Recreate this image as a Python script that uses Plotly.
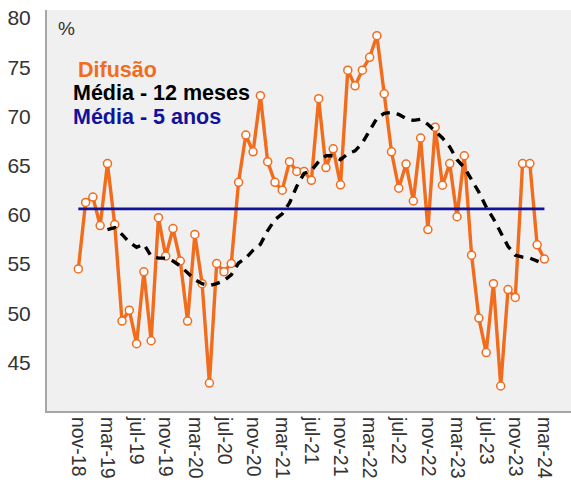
import plotly.graph_objects as go

months = ["nov-18", "dez-18",
          "jan-19", "fev-19", "mar-19", "abr-19", "mai-19", "jun-19", "jul-19", "ago-19", "set-19", "out-19", "nov-19", "dez-19",
          "jan-20", "fev-20", "mar-20", "abr-20", "mai-20", "jun-20", "jul-20", "ago-20", "set-20", "out-20", "nov-20", "dez-20",
          "jan-21", "fev-21", "mar-21", "abr-21", "mai-21", "jun-21", "jul-21", "ago-21", "set-21", "out-21", "nov-21", "dez-21",
          "jan-22", "fev-22", "mar-22", "abr-22", "mai-22", "jun-22", "jul-22", "ago-22", "set-22", "out-22", "nov-22", "dez-22",
          "jan-23", "fev-23", "mar-23", "abr-23", "mai-23", "jun-23", "jul-23", "ago-23", "set-23", "out-23", "nov-23", "dez-23",
          "jan-24", "fev-24", "mar-24"]

difusao = [54.5, 61.25,
           61.8, 58.9, 65.2, 59.0, 49.2, 50.3, 46.9, 54.2, 47.2, 59.7, 55.8, 58.6,
           55.3, 49.2, 58.0, 53.0, 42.9, 55.05, 54.2, 55.05, 63.3, 68.1, 66.4, 72.1,
           65.4, 63.3, 62.5, 65.4, 64.4, 64.4, 63.5, 71.8, 64.8, 66.7, 63.05, 74.7,
           73.1, 74.7, 76.0, 78.2, 72.3, 66.4, 62.7, 65.15, 61.4, 67.8, 58.5, 68.9,
           63.0, 65.2, 59.8, 66.0, 55.9, 49.5, 46.0, 53.0, 42.6, 52.4, 51.6, 65.2,
           65.2, 56.95, 55.5]

media_12m = [None, None,
             None, None, 58.5, 58.7, 58.0, 57.2, 56.7, 57.0, 55.8, 55.6, 55.6, 55.3,
             54.8, 54.1, 53.4, 53.0, 52.8, 53.0, 53.3, 53.9, 55.1, 55.6, 56.4, 57.0,
             58.4, 59.5, 60.1, 61.2, 62.9, 64.2, 64.5, 65.4, 66.0, 66.0, 65.6, 66.2,
             66.5, 67.3, 68.5, 69.8, 70.3, 70.4, 70.2, 69.8, 69.6, 69.7, 69.2, 68.5,
             67.8, 66.9, 65.6, 64.8, 63.6, 62.3, 60.8, 59.6, 58.2, 56.8, 55.9, 55.7,
             55.6, 55.3, 55.0]

media_5a = [60.6] * len(months)

tick_months = ["nov-18", "mar-19", "jul-19", "nov-19", "mar-20", "jul-20", "nov-20", "mar-21",
               "jul-21", "nov-21", "mar-22", "jul-22", "nov-22", "mar-23", "jul-23", "nov-23", "mar-24"]
y_ticks = [45, 50, 55, 60, 65, 70, 75, 80]

ORANGE = "#F26C1E"
BLUE = "#12129A"
FONT = "Liberation Sans, Arial, sans-serif"

fig = go.Figure()
fig.add_trace(go.Scatter(x=months, y=difusao, mode="lines+markers",
                         line=dict(color=ORANGE, width=3.4),
                         marker=dict(symbol="circle", size=8, color="white",
                                     line=dict(color=ORANGE, width=1.5)),
                         name="Difusão"))
fig.add_trace(go.Scatter(x=months, y=media_5a, mode="lines",
                         line=dict(color=BLUE, width=2.6), name="Média - 5 anos"))
fig.add_trace(go.Scatter(x=months, y=media_12m, mode="lines",
                         line=dict(color="black", width=3.4, dash="9px,7px"),
                         name="Média - 12 meses"))

fig.update_layout(
    width=571, height=486,
    margin=dict(l=47, r=0, t=10, b=75),
    paper_bgcolor="white",
    plot_bgcolor="#f0f0f0",
    showlegend=False,
    font=dict(family=FONT, color="#333333"),
    xaxis=dict(type="category", categoryorder="array", categoryarray=months,
               range=[-4.3, 67.65], tickmode="array", tickvals=tick_months, ticktext=tick_months,
               tickangle=90, tickfont=dict(size=19.5, color="#333333", family=FONT),
               showgrid=False, zeroline=False, showline=True, linecolor="#a6a6a6", linewidth=2,
               ticks="", fixedrange=True),
    yaxis=dict(range=[40.06, 80.81], tickmode="array", tickvals=y_ticks,
               tickfont=dict(size=21, color="#333333", family=FONT),
               showgrid=False, zeroline=False, showline=True, linecolor="#a6a6a6", linewidth=2,
               ticks="outside", ticklen=10, tickcolor="white", fixedrange=True),
    annotations=[
        dict(text="%", xref="paper", yref="paper", x=0.017, y=0.955, xanchor="left", yanchor="middle",
             showarrow=False, font=dict(size=19, color="#333333", family=FONT)),
        dict(text="<b>Difusão</b>", xref="paper", yref="paper", x=0.057, y=0.850, xanchor="left",
             yanchor="middle", showarrow=False, borderpad=0, font=dict(size=21.5, color=ORANGE, family=FONT)),
        dict(text="<b>Média - 12 meses</b>", xref="paper", yref="paper", x=0.047, y=0.793, xanchor="left",
             yanchor="middle", showarrow=False, borderpad=0, font=dict(size=21.5, color="black", family=FONT)),
        dict(text="<b>Média - 5 anos</b>", xref="paper", yref="paper", x=0.047, y=0.734, xanchor="left",
             yanchor="middle", showarrow=False, borderpad=0, font=dict(size=21.5, color=BLUE, family=FONT)),
    ],
)

fig.write_html("out.html", config={"displayModeBar": False},
               post_script="document.body.style.margin='0';document.body.style.overflow='hidden';")
